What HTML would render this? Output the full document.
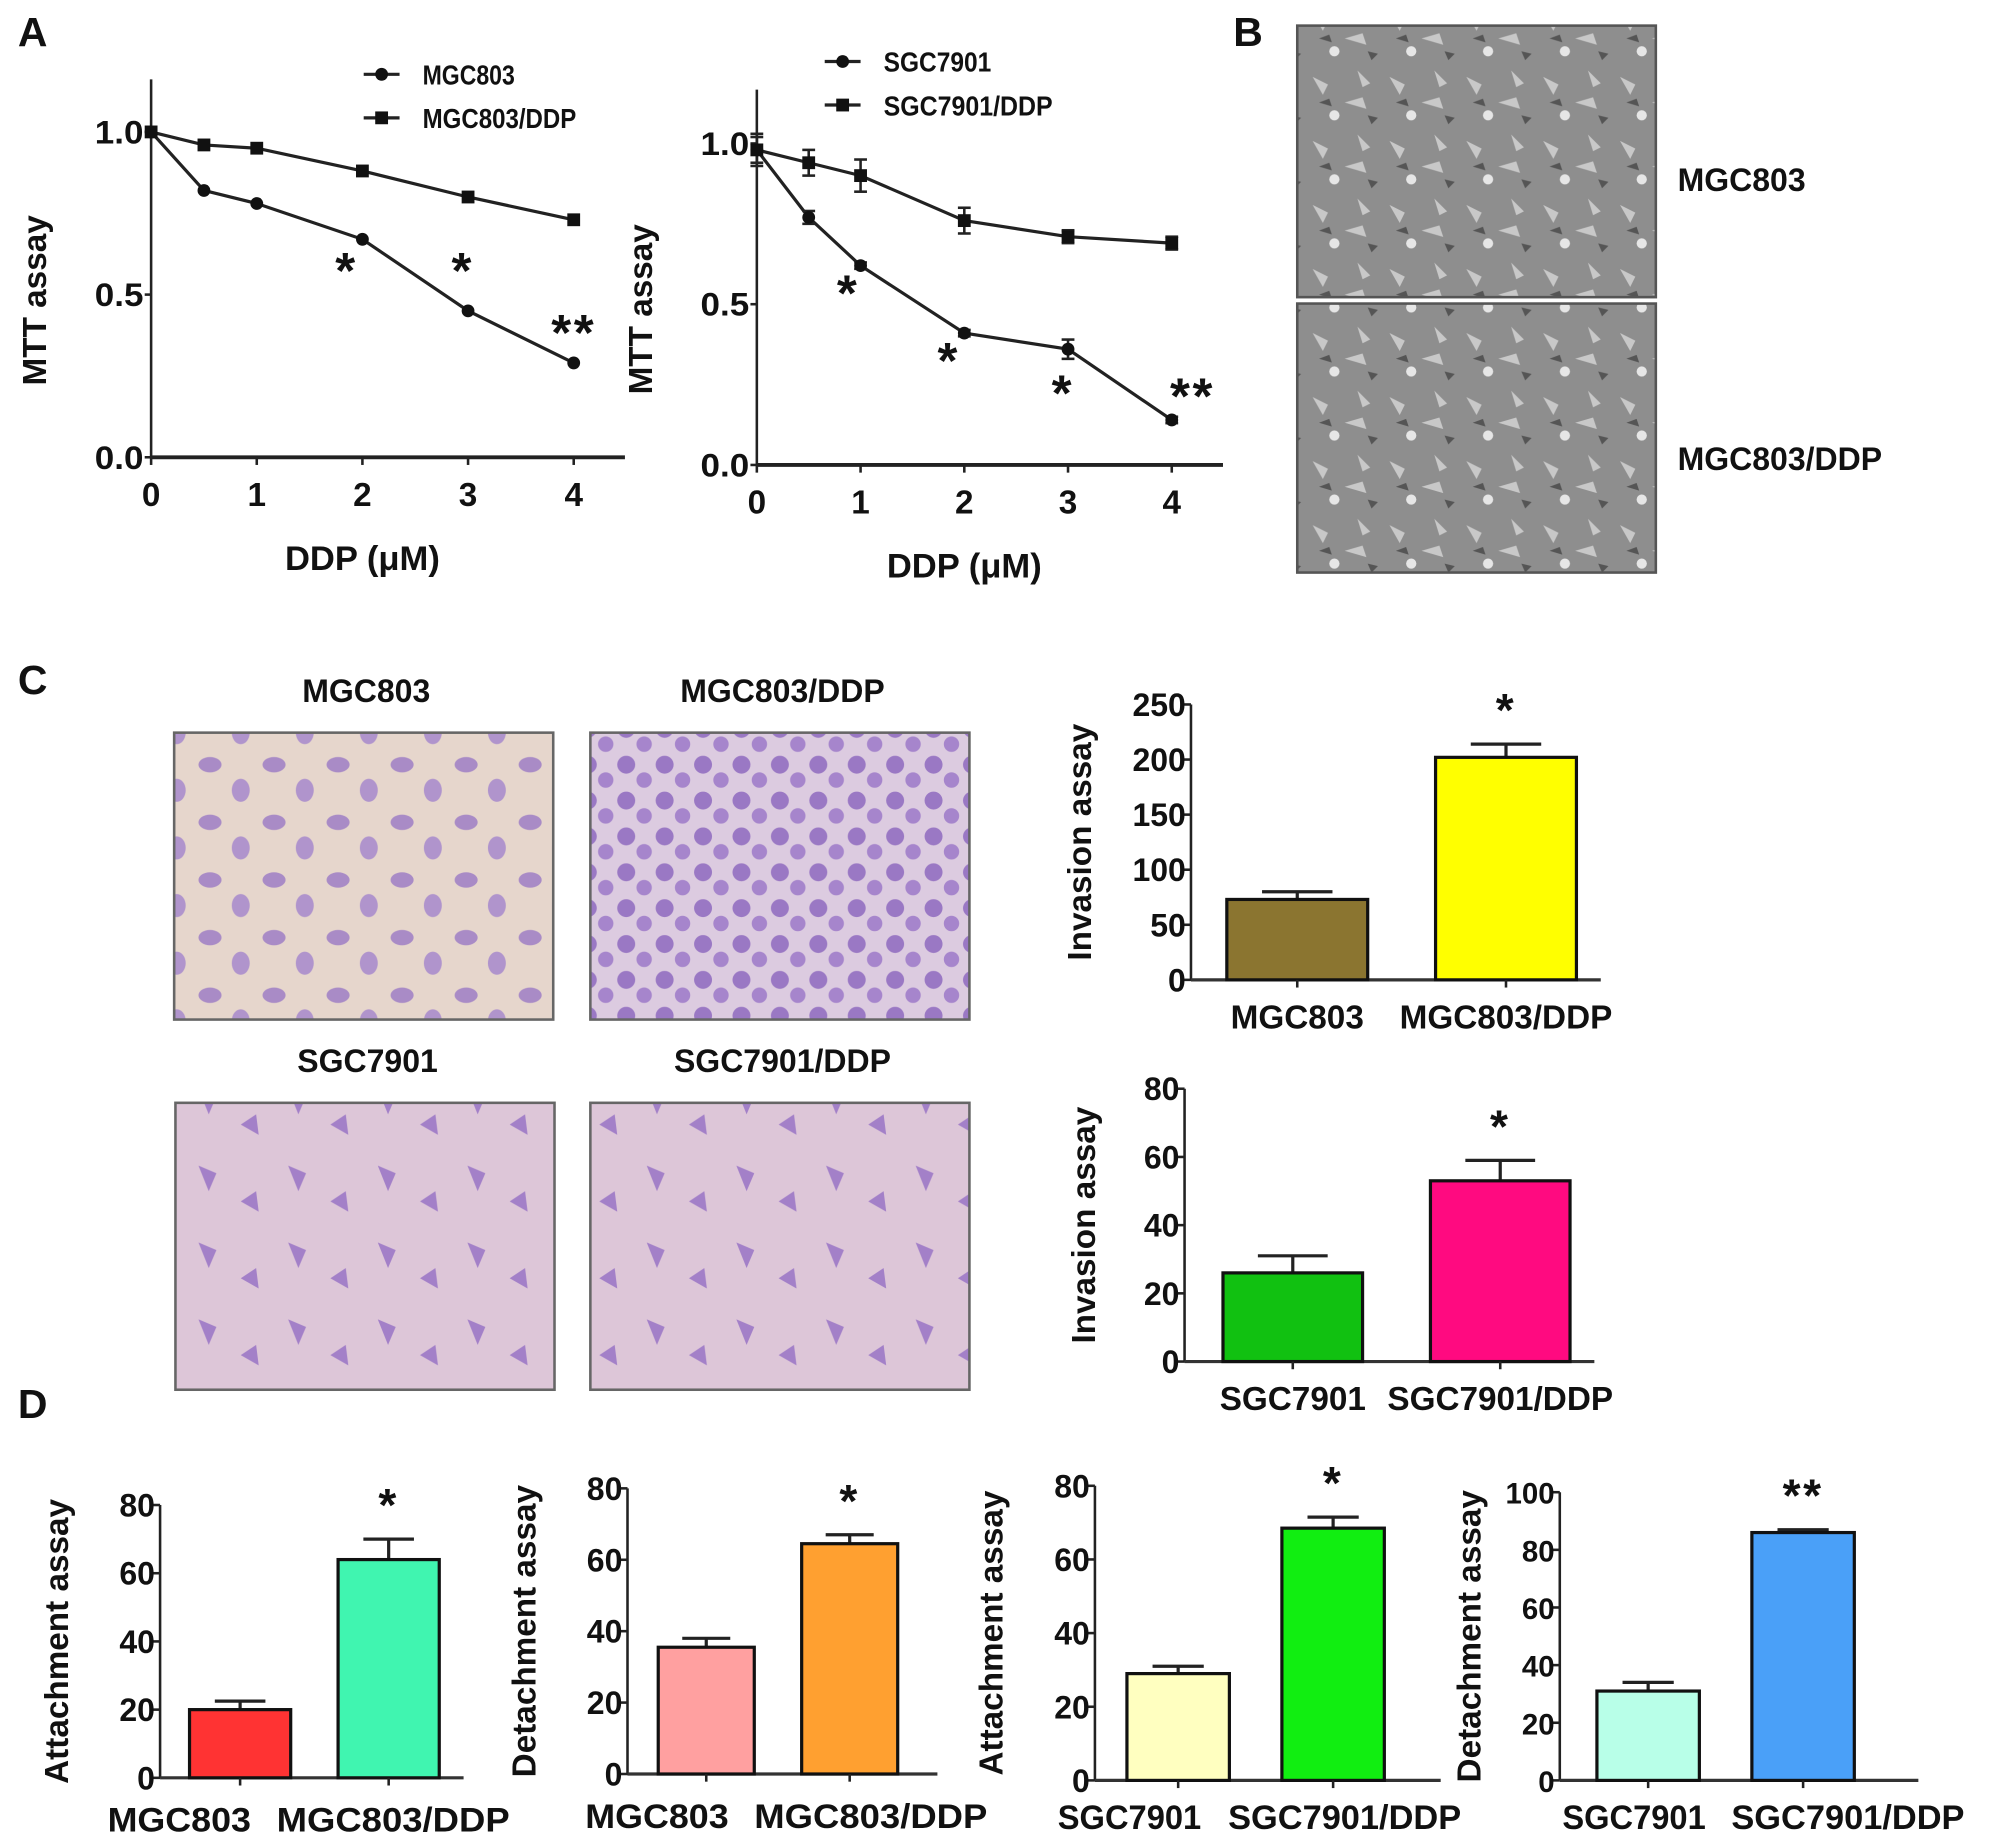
<!DOCTYPE html>
<html><head><meta charset="utf-8"><style>
html,body{margin:0;padding:0;background:#fff}
svg{display:block}
text{font-family:"Liberation Sans",Arial,sans-serif;font-weight:bold;fill:#111}
</style></head><body>
<svg id="fig" width="2008" height="1847" viewBox="0 0 1568 1442" preserveAspectRatio="none" xmlns="http://www.w3.org/2000/svg">
<defs>
<pattern id="phase" width="60" height="50" patternUnits="userSpaceOnUse">
<rect width="60" height="50" fill="#8e8e8e"/>
<path d="M5 10l12 6-4 8zM30 30l14-4 3 9zM40 5l10 10-6 3z" fill="#c8c8c8"/>
<circle cx="22" cy="40" r="4" fill="#e6e6e6"/>
<path d="M10 30l8-3 2 6zM48 40l8 2-5 5z" fill="#555"/>
</pattern>
<pattern id="cellsA" width="50" height="45" patternUnits="userSpaceOnUse">
<rect width="50" height="45" fill="#e6d6cc"/>
<ellipse cx="14" cy="12" rx="9" ry="6" fill="#a98bc6"/>
<ellipse cx="38" cy="32" rx="7" ry="9" fill="#b094cc"/>
</pattern>
<pattern id="cellsB" width="30" height="28" patternUnits="userSpaceOnUse">
<rect width="30" height="28" fill="#dccbe0"/>
<circle cx="9" cy="9" r="7" fill="#9a78c4"/>
<circle cx="23" cy="21" r="6" fill="#a685cc"/>
</pattern>
<pattern id="cellsC" width="70" height="60" patternUnits="userSpaceOnUse">
<rect width="70" height="60" fill="#ddc6d8"/>
<path d="M15 10l14 6-6 14zM48 38l12-8 2 16z" fill="#a380c8"/>
</pattern>
</defs>
<g id="root"></g>
</svg>
<script>
const NS='http://www.w3.org/2000/svg';
const root=document.getElementById('root');
function el(tag,attrs,parent,txt){const e=document.createElementNS(NS,tag);for(const k in attrs)e.setAttribute(k,attrs[k]);if(txt!==undefined)e.textContent=txt;(parent||root).appendChild(e);return e;}

// ---------- Panel A data ----------
const doseA=[0,0.5,1,2,3,4];
const mgc803=[1.0,0.82,0.78,0.67,0.45,0.29];
const mgc803ddp=[1.0,0.96,0.95,0.88,0.80,0.73];
const sgc7901=[0.98,0.77,0.62,0.41,0.36,0.14];
const sgc7901ddp=[0.98,0.94,0.90,0.76,0.71,0.69];
const sgcErr=[0.04,0.02,0.01,0.01,0.03,0.01];
const sgcDdpErr=[0.05,0.04,0.05,0.04,0.02,0.02];
const mttTicks=[0,0.5,1.0];
const doseTicks=[0,1,2,3,4];

// ---------- Panel C / D data ----------
const invMgcCats=['MGC803','MGC803/DDP'];
const invMgcVals=[73,202];
const invMgcErr=[7,12];
const invMgcTicks=[0,50,100,150,200,250];
const invSgcCats=['SGC7901','SGC7901/DDP'];
const invSgcVals=[26,53];
const invSgcErr=[5,6];
const invSgcTicks=[0,20,40,60,80];
const attMgcVals=[20,64];
const attMgcErr=[2.5,6];
const detMgcVals=[35.5,64.5];
const detMgcErr=[2.5,2.5];
const attSgcVals=[29,68.5];
const attSgcErr=[2,3];
const detSgcVals=[31,86];
const detSgcErr=[3,1];
const ticks80=[0,20,40,60,80];
const ticks100=[0,20,40,60,80,100];

function lineChart(o){
  const g=el('g',{});
  
  
  const X=v=>o.x0+(v-0)*(o.x4-o.x0)/4;
  const Y=v=>o.y0-v*(o.y0-o.y1);
  el('line',{x1:o.x0,y1:o.yTop,x2:o.x0,y2:o.y0,stroke:'#222','stroke-width':2},g);
  el('line',{x1:o.x0,y1:o.y0,x2:o.xEnd,y2:o.y0,stroke:'#222','stroke-width':3},g);
  mttTicks.forEach(t=>{el('line',{x1:o.x0-5,y1:Y(t),x2:o.x0,y2:Y(t),stroke:'#222','stroke-width':2},g);
    const tx=el('text',{x:o.x0-6,y:Y(t)+9,'text-anchor':'end','font-size':25,'font-weight':'normal',textLength:38,lengthAdjust:'spacingAndGlyphs'},g,t.toFixed(1));
    });
  doseTicks.forEach(t=>{el('line',{x1:X(t),y1:o.y0,x2:X(t),y2:o.y0+6,stroke:'#222','stroke-width':2},g);
    const tx=el('text',{x:X(t),y:o.y0+38,'text-anchor':'middle','font-size':26},g,String(t));
    });
  const yt=el('text',{transform:`translate(${o.x0-82},${(o.y0+o.yTop)/2+25}) rotate(-90)`,'text-anchor':'middle','font-size':26},g,'MTT assay');
  
  const xt=el('text',{x:(o.x0+o.x4)/2,y:o.y0+88,'text-anchor':'middle','font-size':27},g,'DDP (μM)');
  
  [[o.s1,o.e1,'circle',o.n1],[o.s2,o.e2,'rect',o.n2]].forEach(([s,e,m,nm])=>{
    const p=el('polyline',{points:s.map((v,i)=>X(doseA[i])+','+Y(v)).join(' '),fill:'none',stroke:'#222','stroke-width':2.5},g);
    
    s.forEach((v,i)=>{
      if(e){const d=e[i]*(o.y0-o.y1);el('line',{x1:X(doseA[i]),y1:Y(v)-d,x2:X(doseA[i]),y2:Y(v)+d,stroke:'#222','stroke-width':2},g);
        el('line',{x1:X(doseA[i])-5,y1:Y(v)-d,x2:X(doseA[i])+5,y2:Y(v)-d,stroke:'#222','stroke-width':2},g);
        el('line',{x1:X(doseA[i])-5,y1:Y(v)+d,x2:X(doseA[i])+5,y2:Y(v)+d,stroke:'#222','stroke-width':2},g);}
      let mk;
      if(m==='circle')mk=el('circle',{cx:X(doseA[i]),cy:Y(v),r:5,fill:'#111'},g);
      else mk=el('rect',{x:X(doseA[i])-5,y:Y(v)-5,width:10,height:10,fill:'#111'},g);
      
    });
  });
  o.stars.forEach(([d,v,s])=>{const t=el('text',{x:X(d),y:Y(v),'text-anchor':'middle','font-size':40,'font-weight':'normal','letter-spacing':2},g,s);
    });
  [[o.n1,'circle',0],[o.n2,'rect',34]].forEach(([nm,m,dy])=>{
    el('line',{x1:o.lx-14,y1:o.ly+dy,x2:o.lx+14,y2:o.ly+dy,stroke:'#222','stroke-width':2.5},g);
    if(m==='circle')el('circle',{cx:o.lx,cy:o.ly+dy,r:5,fill:'#111'},g);else el('rect',{x:o.lx-5,y:o.ly+dy-5,width:10,height:10,fill:'#111'},g);
    const t=el('text',{x:o.lx+32,y:o.ly+dy+8,'font-size':22,textLength:nm.length*12,lengthAdjust:'spacingAndGlyphs'},g,nm);
    
  });
}
lineChart({name:'mtt-mgc803-chart',x0:118,x4:448,xEnd:488,y0:357,y1:103,yTop:62,s1:mgc803,s2:mgc803ddp,n1:'MGC803',n2:'MGC803/DDP',
  lx:298,ly:58,stars:[[1.85,0.52,'*'],[2.95,0.52,'*'],[4.0,0.33,'**']]});
lineChart({name:'mtt-sgc7901-chart',x0:591,x4:915,xEnd:955,y0:363,y1:112,yTop:70,s1:sgc7901,s2:sgc7901ddp,e1:sgcErr,e2:sgcDdpErr,n1:'SGC7901',n2:'SGC7901/DDP',
  lx:658,ly:48,stars:[[0.88,0.48,'*'],[1.85,0.27,'*'],[2.95,0.17,'*'],[4.2,0.16,'**']]});

// panel letters
[['A',14,36],['B',963,36],['C',14,542],['D',14,1107]].forEach(([l,x,y])=>{const t=el('text',{x:x,y:y,'font-size':32},root,l);
  });

// Panel B images
[[20,'MGC803',140],[237,'MGC803/DDP',358]].forEach(([y,l,ty],i)=>{
  const r=el('rect',{x:1013,y:y,width:280,height:i?210:212,fill:'url(#phase)',stroke:'#555','stroke-width':2});
  
  const t=el('text',{x:1310,y:ty+9,'font-size':25},root,l);
});
// Panel C images
[[136,572,'MGC803','cellsA'],[461,572,'MGC803/DDP','cellsB'],[137,861,'SGC7901','cellsC'],[461,861,'SGC7901/DDP','cellsC']].forEach(([x,y,l,p])=>{
  const r=el('rect',{x:x,y:y,width:296,height:224,fill:`url(#${p})`,stroke:'#666','stroke-width':2});
  
  const t=el('text',{x:x+150,y:y-24,'text-anchor':'middle','font-size':25},root,l);
});

function barChart(o){
  const g=el('g',{});
  
  
  const max=o.ticks[o.ticks.length-1];
  const Y=v=>o.y0-v*(o.y0-o.yMax)/max;
  el('line',{x1:o.x0,y1:o.yMax,x2:o.x0,y2:o.y0,stroke:'#222','stroke-width':2},g);
  el('line',{x1:o.x0,y1:o.y0,x2:o.xEnd,y2:o.y0,stroke:'#333','stroke-width':2.5},g);
  o.ticks.forEach(t=>{el('line',{x1:o.x0-6,y1:Y(t),x2:o.x0,y2:Y(t),stroke:'#222','stroke-width':2},g);
    const a={x:o.x0-4,y:Y(t)+9,'text-anchor':'end','font-size':o.fs||25};
    if(o.cond)a['font-weight']='normal';
    const tx=el('text',a,g,String(t));
    });
  o.vals.forEach((v,i)=>{
    const bx=o.bx[i],cx=bx+o.bw/2;
    const top=Y(v+o.err[i]);
    el('line',{x1:cx,y1:top,x2:cx,y2:Y(v),stroke:'#222','stroke-width':2.5},g);
    el('line',{x1:cx-o.bw*0.25,y1:top,x2:cx+o.bw*0.25,y2:top,stroke:'#222','stroke-width':2.5},g);
    const b=el('rect',{x:bx,y:Y(v),width:o.bw,height:o.y0-Y(v),fill:o.colors[i],stroke:'#111','stroke-width':2.5},g);
    
    el('line',{x1:cx,y1:o.y0,x2:cx,y2:o.y0+6,stroke:'#222','stroke-width':2},g);
    const a={x:o.lx?o.lx[i]:cx,y:o.y0+(o.ldy||38),'text-anchor':'middle','font-size':o.cfs||26};
    if(o.lx){a.textLength=i?182:112;a.lengthAdjust='spacingAndGlyphs';}
    const t=el('text',a,g,o.cats[i]);
    
  });
  const s=el('text',{x:o.bx[1]+o.bw/2,y:Y(o.vals[1]+o.err[1])-o.sd,'text-anchor':'middle','font-size':36,'letter-spacing':2},g,o.star);
  
  const yt=el('text',{transform:`translate(${o.x0-o.tdx},${(o.y0+o.yMax)/2}) rotate(-90)`,'text-anchor':'middle','font-size':26},g,o.title);
  
}
barChart({name:'invasion-mgc803-chart',x0:930,xEnd:1250,y0:765,yMax:550,ticks:invMgcTicks,vals:invMgcVals,err:invMgcErr,cats:invMgcCats,bx:[958,1121],bw:110,colors:['#8b7530','#ffff00'],star:'*',sd:14,title:'Invasion assay',tdx:78});
barChart({name:'invasion-sgc7901-chart',x0:925,xEnd:1245,y0:1063,yMax:850,ticks:invSgcTicks,vals:invSgcVals,err:invSgcErr,cats:invSgcCats,bx:[955,1117],bw:109,colors:['#11c111','#ff0a80'],star:'*',sd:14,title:'Invasion assay',tdx:70});
barChart({name:'attachment-mgc803-chart',x0:125,xEnd:362,y0:1388,yMax:1175,ticks:ticks80,vals:attMgcVals,err:attMgcErr,cats:invMgcCats,bx:[148,264],bw:79,colors:['#ff3333','#40f5b0'],star:'*',sd:14,title:'Attachment assay',tdx:72,cfs:27,lx:[140,307],ldy:42,cond:1});
barChart({name:'detachment-mgc803-chart',x0:490,xEnd:732,y0:1385,yMax:1162,ticks:ticks80,vals:detMgcVals,err:detMgcErr,cats:invMgcCats,bx:[514,626],bw:75,colors:['#ffa0a0','#ffa030'],star:'*',sd:14,title:'Detachment assay',tdx:72,cfs:27,lx:[513,680],ldy:42,cond:1});
barChart({name:'attachment-sgc7901-chart',x0:855,xEnd:1125,y0:1390,yMax:1160,ticks:ticks80,vals:attSgcVals,err:attSgcErr,cats:invSgcCats,bx:[880,1001],bw:80,colors:['#ffffc0','#11ee11'],star:'*',sd:14,title:'Attachment assay',tdx:72,cfs:27,lx:[882,1050],ldy:38,cond:1});
barChart({name:'detachment-sgc7901-chart',x0:1218,xEnd:1498,y0:1390,yMax:1165,ticks:ticks100,vals:detSgcVals,err:detSgcErr,cats:invSgcCats,bx:[1247,1368],bw:80,colors:['#b8ffe8','#4aa0f8'],star:'**',sd:14,title:'Detachment assay',tdx:62,cfs:27,fs:23,lx:[1276,1443],ldy:38,cond:1});
</script>
</body></html>
